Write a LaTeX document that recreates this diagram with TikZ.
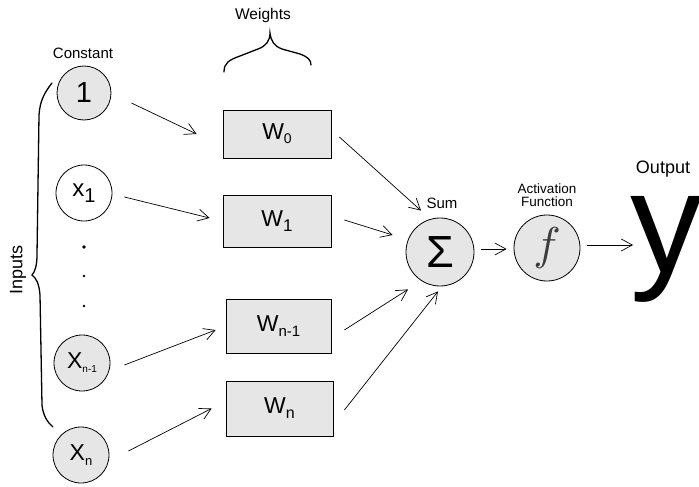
\documentclass[tikz,border=0pt]{standalone}
\usepackage{fontspec}
\setmainfont{Liberation Sans}
\usetikzlibrary{arrows.meta,calc}
\newcommand{\fsz}[1]{\fontsize{#1}{#1}\selectfont}
\newcommand{\lowsub}[3]{\raisebox{-#1}{\fsz{#2}#3}}
\definecolor{nodegray}{RGB}{230,230,230}
\definecolor{fgray}{RGB}{60,60,60}
\begin{document}
\begin{tikzpicture}[x=1pt,y=-1pt,
  cir/.style={circle,draw,line width=0.8pt,minimum size=#1,inner sep=0pt},
  wbox/.style={rectangle,draw,line width=0.8pt,fill=nodegray,inner sep=0pt},
  arr/.style={line width=0.7pt,-{Straight Barb[length=11pt,width=12pt,line width=0.7pt]}},
  brc/.style={line width=1.3pt,line cap=round},
  lbl/.style={inner sep=0pt,font=\fsz{15}}
]
\useasboundingbox (0,0) rectangle (699,487);

% inputs
\node[cir=54pt,fill=nodegray] (one) at (84,93) {\fsz{29}1};
\node[cir=56pt,fill=white] (x1) at (84,193) {\fsz{24}x\lowsub{6pt}{20}{1}};
\node[cir=56pt,fill=nodegray] (xn1) at (82,363) {\fsz{23}X\lowsub{4pt}{10}{n-1}};
\node[cir=56pt,fill=nodegray] (xn) at (81,455) {\fsz{23}X\lowsub{5pt}{13}{n}};
\fill (84,247) circle (1.8pt);
\fill (84,276) circle (1.4pt);
\fill (84,306) circle (1.4pt);

% weights
\node[wbox,minimum width=108pt,minimum height=48pt] (w0) at (277,134) {\fsz{23}W\lowsub{4pt}{14}{0}};
\node[wbox,minimum width=108pt,minimum height=52pt] (w1) at (277,221) {\fsz{23}W\lowsub{5pt}{17}{1}};
\node[wbox,minimum width=105pt,minimum height=54pt] (wn1) at (278.5,326) {\fsz{23}W\lowsub{5pt}{15}{n-1}};
\node[wbox,minimum width=107pt,minimum height=55pt] (wn) at (279.5,408.5) {\fsz{23}W\lowsub{5pt}{16}{n}};

% sum, activation, output
\node[cir=68pt,fill=nodegray] (sum) at (440,252) {\fsz{45}Σ};
\node[cir=66pt,fill=nodegray] (f) at (547,248) {\color{fgray}\fsz{10}\scalebox{4.6}{$f$}};
\node[anchor=base west,inner sep=0pt,font=\fsz{144},text height=75pt,text depth=30pt] (out) at (630,272) {y};

% labels
\node[lbl] (lconst) at (83,53) {Constant};
\node[lbl,font=\fsz{15.5}] (lweights) at (263,15) {Weights};
\node[lbl] (lsum) at (442,203) {Sum};
\node[lbl,font=\fsz{13.5},align=center] (lact) at (547,195) {Activation\\[-1pt]Function};
\node[lbl,font=\fsz{18}] (lout) at (663,169) {Output};
\node[lbl,font=\fsz{18},rotate=90] (linp) at (18,270) {Inputs};

% braces
\draw[brc] (224,72) .. controls (224,63) and (229,60) .. (240,56) -- (258,49)
  .. controls (266,46) and (270,41) .. (270,33)
  .. controls (271,41) and (274,46) .. (282,49) -- (300,54)
  .. controls (308,57) and (311,60) .. (311,65);
\draw[brc] (52,83) .. controls (45,92) and (40,100) .. (39,115) -- (37,255)
  .. controls (37,265) and (35,272) .. (32,275)
  .. controls (36,278) and (39,283) .. (40,295) -- (42,405)
  .. controls (43,415) and (47,422) .. (53,427);

% connectors
\draw[arr] ([shift={(20,10)}]one.east) -- ([shift={(-26,0)}]w0.west);
\draw[arr] ([shift={(12,4)}]x1.east) -- ([shift={(-13,-3)}]w1.west);
\draw[arr] ([shift={(14,2)}]xn1.east) -- ([shift={(-10,4)}]wn1.west);
\draw[arr] ([shift={(19,-4)}]xn.east) -- ([shift={(-14,0)}]wn.west);
\draw[arr] ([shift={(8,3)}]w0.east) -- ([shift={(-19,-7)}]sum.north);
\draw[arr] ([shift={(13,-1)}]w1.east) -- ([shift={(-13,-17)}]sum.west);
\draw[arr] ([shift={(13,4)}]wn1.east) -- ([shift={(-32,3)}]sum.south);
\draw[arr] ([shift={(11,1.5)}]wn.east) -- ([shift={(-2,5)}]sum.south);
\draw[arr] ([shift={(7,-3)}]sum.east) -- ([shift={(-7,1)}]f.west);
\draw[arr] ([shift={(7,-3)}]f.east) -- ([shift={(3,-27)}]out.base west);
\end{tikzpicture}
\end{document}
